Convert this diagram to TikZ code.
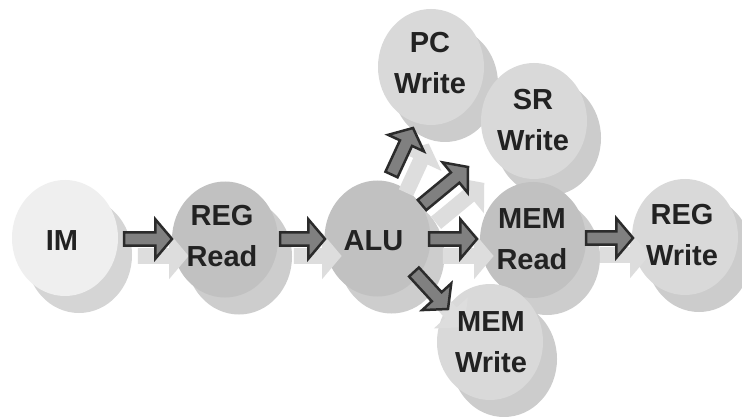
\documentclass[tikz,border=0pt]{standalone}
\usepackage{fontspec}
\setmainfont{Liberation Sans}
\usetikzlibrary{calc,shapes.geometric,shadows}

\definecolor{inkdark}{HTML}{222222}
\definecolor{rimcol}{HTML}{2B2B2B}
\definecolor{bodycol}{HTML}{808080}
\definecolor{ghostcol}{HTML}{DDDDDD}
\definecolor{paleface}{HTML}{EFEFEF}
\definecolor{paleshade}{HTML}{D5D5D5}
\definecolor{midface}{HTML}{C1C1C1}
\definecolor{midshade}{HTML}{CDCDCD}
\definecolor{lightface}{HTML}{D9D9D9}
\definecolor{lightshade}{HTML}{CCCCCC}

% block arrow geometry (half shaft width, half head width, head length)
\newcommand\shafthalf{5pt}
\newcommand\headhalf{14.8pt}
\newcommand\headlen{12.5pt}

\tikzset{
  stage/.style={ellipse, minimum width=79.5pt, minimum height=87pt,
    inner sep=0pt, outer sep=0pt},
  face/.style 2 args={stage, fill=#1,
    drop shadow={shadow xshift=10.5pt, shadow yshift=-12.75pt, fill=#2, opacity=1}},
  caption/.style={align=center, text=inkdark, inner sep=0pt,
    font=\bfseries\fontsize{21.75pt}{30.75pt}\selectfont},
  blockpath/.style={to path={
    let \p1=(\tikztostart), \p2=(\tikztotarget),
        \p3=($(\p2)!\headlen!(\p1)$) in
    ($(\p1)!\shafthalf!90:(\p2)$) -- ($(\p3)!\shafthalf!90:(\p2)$)
    -- ($(\p3)!\headhalf!90:(\p2)$) -- (\p2)
    -- ($(\p3)!\headhalf!-90:(\p2)$) -- ($(\p3)!\shafthalf!-90:(\p2)$)
    -- ($(\p1)!\shafthalf!-90:(\p2)$) -- cycle}},
  pipe/.style={blockpath, draw=rimcol, fill=bodycol, line width=1.875pt},
  pipeghost/.style={blockpath, draw=ghostcol, fill=ghostcol, line width=1.875pt},
}

\begin{document}
\begin{tikzpicture}[x=0.75pt, y=-0.75pt]
  \fill[white] (0,0) rectangle (742,417);
  \useasboundingbox (0,0) rectangle (742,417);
  \clip (0,0) rectangle (742,417);

  % pipeline stages (discs with their drop shadows)
  \node[face={paleface}{paleshade}] (im) at (65,238) {};
  \node[face={midface}{midshade}] (regr) at (225,239.5) {};
  \node[face={midface}{midshade}] (alu) at (377.5,238.5) {};
  \node[face={lightface}{lightshade}] (pcw) at (431,67) {};
  \node[face={lightface}{lightshade}] (srw) at (534,121) {};
  \node[face={midface}{midshade}] (memr) at (533,240) {};
  \node[face={lightface}{lightshade}] (memw) at (490,342) {};
  \node[face={lightface}{lightshade}] (regw) at (685,237) {};

  % shadows of the flow arrows
  \path[pipeghost] ($(im)+(59,1)+(15,17)$) to ($(regr)+(-53,-0.5)+(15,17)$);
  \path[pipeghost] ($(regr)+(55,-0.5)+(15,17)$) to ($(alu)+(-52.5,0.5)+(15,17)$);
  \path[pipeghost] ($(alu)+(51.5,0.5)+(15,17)$) to ($(memr)+(-56,-1)+(15,17)$);
  \path[pipeghost] ($(memr)+(53,-2)+(15,17)$) to ($(regw)+(-52,1)+(15,17)$);
  \path[pipeghost] ($(alu)+(14,-64)+(15,17)$) to ($(pcw)+(-18,61)+(15,17)$);
  \path[pipeghost] ($(alu)+(44.5,-33.5)+(15,17)$) to ($(srw)+(-66,46)+(15,17)$);
  \path[pipeghost] ($(alu)+(36.5,33.5)+(15,17)$) to ($(memw)+(-42,-33)+(15,17)$);

  % stage names
  \node[caption] (im-t) at ($(im)+(-3,3)$) {IM};
  \node[caption] (regr-t) at ($(regr)+(-3,-3)$) {REG\\Read};
  \node[caption] (alu-t) at ($(alu)+(-4,2)$) {ALU};
  \node[caption] (pcw-t) at ($(pcw)+(-1,-4)$) {PC\\Write};
  \node[caption] (srw-t) at ($(srw)+(-1,-1)$) {SR\\Write};
  \node[caption] (memr-t) at ($(memr)+(-1,-1)$) {MEM\\Read};
  \node[caption] (memw-t) at ($(memw)+(1,0)$) {MEM\\Write};
  \node[caption] (regw-t) at ($(regw)+(-3,-2)$) {REG\\Write};

  % flow arrows
  \draw[pipe] ($(im)+(59,1)$) to ($(regr)+(-53,-0.5)$);
  \draw[pipe] ($(regr)+(55,-0.5)$) to ($(alu)+(-52.5,0.5)$);
  \draw[pipe] ($(alu)+(51.5,0.5)$) to ($(memr)+(-56,-1)$);
  \draw[pipe] ($(memr)+(53,-2)$) to ($(regw)+(-52,1)$);
  \draw[pipe] ($(alu)+(14,-64)$) to ($(pcw)+(-18,61)$);
  \draw[pipe] ($(alu)+(44.5,-33.5)$) to ($(srw)+(-66,46)$);
  \draw[pipe] ($(alu)+(36.5,33.5)$) to ($(memw)+(-42,-33)$);
\end{tikzpicture}
\end{document}
